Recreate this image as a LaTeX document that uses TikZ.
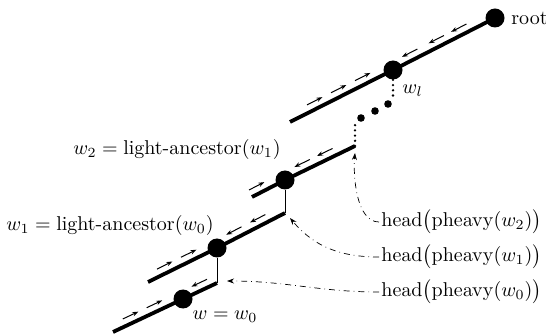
\documentclass[tikz,border=0pt]{standalone}
\usepackage{amsmath}
\usetikzlibrary{arrows.meta,calc,decorations.markings}
\tikzset{
  % tree vertex sitting on a heavy path
  vtx/.style    = {circle, fill=black, inner sep=0pt, minimum size=9.5pt},
  bigdot/.style = {circle, fill=black, inner sep=0pt, minimum size=3.8pt},
  heavy/.style  = {line width=1.9pt},
  link/.style   = {line width=0.5pt},
  dots/.style   = {line width=1.3pt, line cap=round, dash pattern=on 0pt off 2.6pt},
  ptr/.style    = {-{Stealth[length=3.5pt,width=2.5pt]}, line width=0.35pt, dash dot},
  lbl/.style    = {inner sep=1pt},
  % little arrows riding on the upper-left side of a path
  tiny/.style   = {-{Stealth[length=3pt,width=2.2pt]}, line width=0.5pt},
  fwd/.style    = {postaction={decorate, decoration={markings,
                   mark=at position #1 with {\draw[tiny] (-4.3pt,3.8pt) -- (4.3pt,3.8pt);}}}},
  bwd/.style    = {postaction={decorate, decoration={markings,
                   mark=at position #1 with {\draw[tiny] (4.3pt,3.8pt) -- (-4.3pt,3.8pt);}}}},
}
\begin{document}
\begin{tikzpicture}[x=0.5pt, y=-0.5pt]
\useasboundingbox (0,0) rectangle (546,336);
% vertices
\node[vtx] (root) at (495,18) {};
\node[vtx] (wl) at (393,70) {};
\node[vtx] (w2) at (285,180) {};
\node[vtx] (w1) at (217,248) {};
\node[vtx] (w) at (183,299) {};
% ends of the heavy paths
\coordinate (s3a) at (290,122);
\coordinate (s2a) at (252,197);
\coordinate (s2b) at (355,146);
\coordinate (s1a) at (148,282);
\coordinate (s1b) at (285,213);
\coordinate (s0a) at (113,332);
\coordinate (s0b) at (217,283);

% heavy paths
\draw[heavy, fwd=0.137, fwd=0.254, fwd=0.371, bwd=0.60, bwd=0.73, bwd=0.84]
      (s3a) -- (wl.center) -- (root.center);
\draw[heavy, fwd=0.08, bwd=0.52, bwd=0.74] (s2a) -- (w2.center) -- (s2b);
\draw[heavy, fwd=0.146, fwd=0.32, bwd=0.65, bwd=0.825] (s1a) -- (w1.center) -- (s1b);
\draw[heavy, fwd=0.2, fwd=0.43, bwd=0.86] (s0a) -- (w.center) -- (s0b);

% light edges
\draw[link] (w2) -- (s1b);
\draw[link] (w1) -- (s0b);

% the skipped part
\coordinate (d3) at (393,98);
\coordinate (d2) at (355,125);
\draw[dots] (wl) -- (d3);
\draw[dots] (s2b) -- (d2);
\node[bigdot] (e1) at (388,104) {};
\node[bigdot] (e2) at (375,111) {};
\node[bigdot] (e3) at (361,118) {};

% labels
\node[lbl, anchor=west] (rootlbl) at (509,18) {root};
\node[lbl, anchor=north west] (wllbl) at (400,82) {$w_l$};
\node[lbl, anchor=east] (w2lbl) at (283,150) {$w_2 = \text{light-ancestor}(w_1)$};
\node[lbl, anchor=east] (w1lbl) at (216,226) {$w_1 = \text{light-ancestor}(w_0)$};
\node[lbl] (wlbl) at (225,317) {$w = w_0$};
\node[lbl, anchor=west] (h2) at (379,222) {$\mathrm{head}\bigl(\mathrm{pheavy}(w_2)\bigr)$};
\node[lbl, anchor=west] (h1) at (379,257) {$\mathrm{head}\bigl(\mathrm{pheavy}(w_1)\bigr)$};
\node[lbl, anchor=west] (h0) at (379,292) {$\mathrm{head}\bigl(\mathrm{pheavy}(w_0)\bigr)$};

% pointers to the path heads
\draw[ptr] (h2.west) to[out=180, in=-95, looseness=0.8] ($(s2b)+(0,7)$);
\draw[ptr] (h1.west) to[out=180, in=-50] ($(s1b)+(5,5)$);
\draw[ptr] (h0.west) to[out=180, in=0] ($(s0b)+(10,-2)$);
\end{tikzpicture}
\end{document}
